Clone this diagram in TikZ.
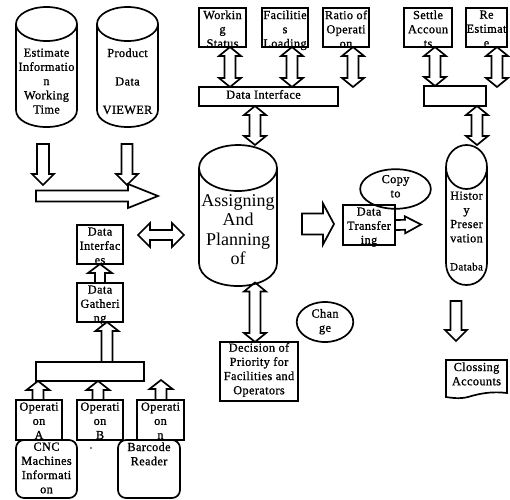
\documentclass[tikz,border=0pt]{standalone}
\usepackage{fontspec}
\setmainfont{Liberation Serif}
\newfontfamily\bodyfont[FakeBold=1,LetterSpace=3]{Liberation Serif}
\usetikzlibrary{calc,shapes.geometric}
\newcommand{\tb}[4]{\parbox[c][#2pt][t]{#1pt}{\vspace*{\dimexpr#3pt+2.5pt\relax}\centering\hyphenpenalty=10000 \baselineskip=14.2pt \lineskiplimit=-20pt\relax #4\par}}
\tikzset{
  x=1pt,y=-1pt,
  edge/.style={line width=1.7pt,black},
  shapebox/.style={edge,draw,rectangle,inner sep=0pt,outer sep=0pt,anchor=north west,font=\bodyfont\fontsize{12.3}{14}\selectfont},
  plainbox/.style={shapebox,draw=none},
  roundbox/.style={shapebox,rounded corners=8pt},
  flow/.style={edge,line join=miter}
}
% name, x, y, w, h, offset, text
\newcommand{\bx}[7]{\node[shapebox] (#1) at (#2,#3) {\tb{#4}{#5}{#6}{#7}};}
\newcommand{\plain}[7]{\node[plainbox] (#1) at (#2,#3) {\tb{#4}{#5}{#6}{#7}};}
\newcommand{\rbx}[7]{\node[roundbox] (#1) at (#2,#3) {\tb{#4}{#5}{#6}{#7}};}
% block arrow: from, to, half shaft, half head, head length
\newcommand{\blk}[5]{%
  \coordinate (A) at (#1); \coordinate (B) at (#2);
  \coordinate (N) at ($(B)!#5pt!(A)$);
  \draw[flow] ($(A)!#3pt!90:(B)$) -- ($(N)!#3pt!-90:(A)$) -- ($(N)!#4pt!-90:(A)$) -- (B)
     -- ($(N)!#4pt!90:(A)$) -- ($(N)!#3pt!90:(A)$) -- ($(A)!#3pt!-90:(B)$) -- cycle;}
\newcommand{\dbl}[5]{%
  \coordinate (A) at (#1); \coordinate (B) at (#2);
  \coordinate (N) at ($(B)!#5pt!(A)$); \coordinate (M) at ($(A)!#5pt!(B)$);
  \draw[flow] (A) -- ($(M)!#4pt!90:(B)$) -- ($(M)!#3pt!90:(B)$) -- ($(N)!#3pt!-90:(A)$) -- ($(N)!#4pt!-90:(A)$) -- (B)
     -- ($(N)!#4pt!90:(A)$) -- ($(N)!#3pt!90:(A)$) -- ($(M)!#3pt!-90:(B)$) -- ($(M)!#4pt!-90:(B)$) -- cycle;}
% cylinder outline: x-left, x-right, y-top, ry, y-side-end
\newcommand{\cyl}[5]{%
  \pgfmathsetmacro{\rx}{(#2-#1)/2}
  \draw[edge] (#1+\rx,#3+#4) ellipse [x radius=\rx pt,y radius=#4 pt];
  \draw[edge] (#1,#3+#4) -- (#1,#5) .. controls (#1,#5+0.6*#4) and (#1+0.45*\rx,#5+#4) .. (#1+\rx,#5+#4)
     .. controls (#2-0.45*\rx,#5+#4) and (#2,#5+0.6*#4) .. (#2,#5) -- (#2,#3+#4);}
\begin{document}
\begin{tikzpicture}
\useasboundingbox (0,0) rectangle (510,499);
% cylinders
\cyl{16}{77}{7}{17}{110}
\cyl{97}{158}{7}{17}{110}
\cyl{199}{277}{145}{23}{263}
\cyl{446}{487}{145}{22}{263}
\plain{est}{16}{46}{61}{79}{0}{Estimate\\Informatio\\n\\Working\\Time}
\plain{prod}{97}{46}{61}{79}{0}{Product\\~\\Data\\~\\VIEWER}
\node[plainbox,font=\fontsize{18}{19.5}\selectfont] (asg) at (199,194.5) {\parbox[c][88pt][t]{78pt}{\centering\baselineskip=19.5pt Assigning\\And\\Planning\\of\par}};
\plain{hist}{446}{189}{41}{94}{0}{Histor\\y\\Preser\\vation\\~\\\fontsize{11}{14}\selectfont Databa}
% top boxes
\bx{work}{199}{8}{47}{39}{0}{Workin\\g\\Status}
\bx{fac}{262}{8}{46}{39}{0}{Facilitie\\s\\Loading}
\bx{ratio}{323}{8}{46}{39}{0}{Ratio of\\Operati\\on}
\bx{settle}{404}{8}{48}{39}{0}{Settle\\Accoun\\ts}
\bx{reest}{466}{8}{41}{39}{0}{Re\\Estimat\\e}
\bx{dif}{199}{87}{139}{19}{0.5}{\hspace*{-10pt}Data Interface}
\bx{dif2}{424}{86}{62}{20}{0}{\mbox{}}
% middle right
\node[shapebox,ellipse,anchor=center,minimum width=63pt,minimum height=32pt] (copy) at (395.5,189) {\tb{50}{28}{-2.5}{Copy\\to}};
\bx{trans}{343}{205}{52}{40}{0}{Data\\Transfer\\ing}
\node[shapebox,ellipse,anchor=center,minimum width=48pt,minimum height=40pt] (chg) at (325,322) {\tb{40}{28}{-1.5}{Chan\\ge}};
\bx{dec}{220}{342}{78}{59}{-1.5}{Decision of\\Priority for\\Facilities and\\Operators}
% closing
\plain{clos}{446}{360}{61}{38}{0}{Clossing\\Accounts}
\draw[edge] (clos.north west) -- (clos.north east) -- (507,393) .. controls (490,391) and (478,394) .. (468,397) .. controls (460,399) and (452,398) .. (446,397) -- cycle;
% left
\bx{dint}{77}{225}{46}{39}{0}{Data\\Interfac\\es}
\bx{gath}{77}{283}{46}{39}{0}{Data\\Gatheri\\ng}
\bx{wide}{36}{362}{108}{19}{0}{\mbox{}}
\bx{opa}{16}{400}{46}{40}{0}{Operati\\on\\A}
\bx{opb}{77}{400}{46}{40}{0}{Operati\\on\\B}
\bx{opn}{137}{400}{47}{40}{0}{Operati\\on\\n}
\rbx{cnc}{16}{440}{61}{58}{0}{CNC\\Machines\\Informati\\on}
\rbx{bar}{118}{440}{62}{58}{0}{Barcode\\Reader}
\node[inner sep=0pt,minimum size=1.6pt,fill=black,circle] (dot) at (91,448) {};
% free ends
\coordinate (a1) at (43,144); \coordinate (a2) at (43,185);
\coordinate (b1) at (127,144); \coordinate (b2) at (127,185);
\coordinate (c1) at (36,196); \coordinate (c2) at (158,196);
\coordinate (d1) at (138,235); \coordinate (d2) at (184,235);
\coordinate (e1) at (302,224); \coordinate (e2) at (334,224);
\coordinate (f2) at (421,224.5);
\coordinate (g1) at (456,301); \coordinate (g2) at (456,341);
\coordinate (h1) at (255,282.5);
\coordinate (i1) at (255,145);
\coordinate (j1) at (477,145);
\coordinate (r2) at (353,87);
\coordinate (s2) at (497,87);
\coordinate (u1) at (161,380);
\coordinate (x107) at (107,0);
\coordinate (x38) at (38,0);
\coordinate (x98) at (98,0);
\coordinate (x161) at (161,0);
\coordinate (x230) at (230,0);
\coordinate (x292) at (292,0);
\coordinate (x435) at (435,0);
% arrows
\blk{a1}{a2}{6}{11}{11}
\blk{b1}{b2}{5.5}{11}{11}
\blk{c1}{c2}{5.5}{12}{30}
\dbl{d1}{d2}{5}{12}{12}
\blk{e1}{e2}{10.5}{20.5}{11}
\blk{trans.east}{f2}{5}{8.5}{16}
\blk{g1}{g2}{5.5}{11}{11}
\dbl{work.south -| x230}{dif.north -| x230}{5.5}{11}{9}
\dbl{fac.south -| x292}{dif.north -| x292}{5.5}{11}{9}
\dbl{ratio.south -| r2}{r2}{5.5}{11}{9}
\dbl{settle.south -| x435}{dif2.north -| x435}{5.5}{11}{9}
\dbl{reest.south -| s2}{s2}{5.5}{11}{9}
\dbl{dif2.south -| j1}{j1}{5.5}{11}{9}
\dbl{dif.south -| i1}{i1}{5.5}{11}{9}
\dbl{h1}{dec.north -| h1}{5.5}{11}{9}
\blk{gath.north}{dint.south}{5}{12}{9}
\blk{wide.north -| x107}{gath.south -| x107}{5.5}{11.5}{9}
\blk{opa.north -| x38}{wide.south -| x38}{5.5}{11.5}{9}
\blk{opb.north -| x98}{wide.south -| x98}{5.5}{11.5}{9}
\blk{opn.north -| x161}{u1}{5.5}{11.5}{9}
\end{tikzpicture}
\end{document}
